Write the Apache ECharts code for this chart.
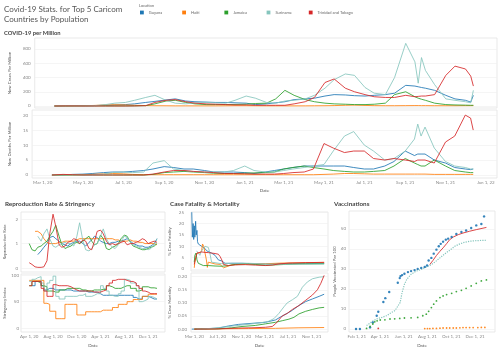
<!DOCTYPE html>
<html lang="en">
<head>
<meta charset="UTF-8">
<title>Covid-19 Stats</title>
<script src="https://cdn.jsdelivr.net/npm/echarts@6/dist/echarts.min.js"></script>
<style>
  html, body { margin: 0; padding: 0; background: #fff; }
  #main { width: 499px; height: 353px; }
</style>
</head>
<body>
<div id="main"></div>
<script>
const countries = ['Guyana', 'Haiti', 'Jamaica', 'Suriname', 'Trinidad and Tobago'];
const colors = ['#1f77b4', '#ff7f0e', '#2ca02c', '#86c5bd', '#d62728'];

// ---- COVID-19 per Million (top) ----
const casesDates = ['2020-03-15','2020-04-01','2020-04-15','2020-05-01','2020-05-15','2020-06-01','2020-06-15','2020-07-01','2020-07-15','2020-08-01','2020-08-15','2020-09-01','2020-09-15','2020-10-01','2020-10-15','2020-11-01','2020-11-15','2020-12-01','2020-12-15',
  '2021-01-01','2021-01-15','2021-02-01','2021-02-15','2021-03-01','2021-03-15','2021-04-01','2021-04-15','2021-05-01','2021-05-15','2021-06-01','2021-06-15','2021-07-01','2021-07-15','2021-08-01','2021-08-15','2021-09-01','2021-09-15','2021-09-20','2021-09-25','2021-10-01','2021-10-15','2021-11-01','2021-11-15','2021-12-01','2021-12-09','2021-12-13'];
const newCases = [
  [0,1,2,3,5,10,15,20,30,50,65,85,100,70,60,55,50,50,45, 40,20,30,45,60,90,100,110,140,160,155,145,140,150,160,180,290,280,270,260,250,220,150,100,80,55,150],
  [0,1,2,4,8,15,18,15,10,6,4,3,2,2,2,2,2,3,4, 4,3,2,2,2,2,2,3,4,6,10,12,8,5,4,4,5,6,6,5,5,4,4,4,5,5,6],
  [0,1,2,2,1,1,1,1,2,5,30,70,80,50,30,20,20,20,22, 25,35,40,100,220,150,90,60,40,30,25,20,20,25,40,160,200,130,110,95,80,40,20,15,12,10,10],
  [0,2,3,3,5,20,40,50,80,120,150,80,40,30,45,50,45,40,80, 140,110,50,40,70,80,100,150,250,370,450,430,260,180,160,400,880,620,320,680,500,300,100,80,60,45,220],
  [0,1,1,0,0,0,0,0,1,5,50,80,90,60,40,30,25,20,15, 15,10,10,10,10,30,60,120,330,380,250,200,160,130,120,120,150,130,135,140,140,160,430,560,520,420,280]
];
const newDeaths = [
  [0,0,0.2,0.3,0.5,0.8,1,1,1.2,1.5,2,2.8,2.5,2,2,1.5,1,1,1, 0.8,0.5,1,1.5,2,2.5,3,3,3,3,3,2.5,2,2,3,4.5,8,6.5,7,7,7,5,4,2.5,2,1.8,2],
  [0,0,0,0.1,0.2,0.4,0.5,0.4,0.2,0.1,0.1,0.1,0.1,0.1,0.1,0.1,0.1,0.1,0.1, 0.1,0.1,0.1,0.1,0.1,0.1,0.1,0.1,0.2,0.3,0.5,0.5,0.4,0.3,0.3,0.3,0.3,0.3,0.3,0.3,0.3,0.2,0.2,0.2,0.2,0.2,0.2],
  [0,0,0,0,0,0,0,0,0,0,0.2,0.8,1,1.2,1,0.8,0.6,0.5,0.5, 0.6,0.7,0.8,1,2,2.5,3,2.5,2,1.5,1.2,1,1,1.2,1.5,3,5.5,4,3.5,3,3,5,3,1.5,1,0.8,0.8],
  [0,0,0,0,0,0.3,0.8,1,0.8,1,4,4.8,2,1.5,1.2,1,1,1,1.5, 3,1.5,1,1,1.5,2,2.5,3,3.5,8,13,14.5,10,8,5,5.5,8,12,17,13,16,9,4.5,3,2.5,2,2],
  [0,0.2,0.1,0,0,0,0,0,0,0,0.3,1,1.5,1.5,1.2,1,0.8,0.5,0.5, 0.4,0.3,0.3,0.3,0.5,0.8,1,2,10.5,9,7.5,8,8,5.5,5,5.5,5,4.5,5,5,5,4,11,13,20,19,15]
];

// ---- Reproduction Rate & Stringency ----
const lowDates = ['2020-04-01','2020-04-15','2020-05-01','2020-05-15','2020-06-01','2020-06-15','2020-07-01','2020-07-15','2020-08-01','2020-08-15','2020-09-01','2020-09-15','2020-10-01','2020-10-15','2020-11-01','2020-11-15','2020-12-01','2020-12-15',
  '2021-01-01','2021-01-15','2021-02-01','2021-02-15','2021-03-01','2021-03-15','2021-04-01','2021-04-15','2021-05-01','2021-05-15','2021-06-01','2021-06-15','2021-07-01','2021-07-15','2021-08-01','2021-08-15','2021-09-01','2021-09-15','2021-10-01','2021-10-15','2021-11-01','2021-11-15','2021-12-01','2021-12-15','2022-01-01','2022-01-15'];
const reproRate = [
  [null,null,null,0.55,0.7,0.85,1.0,1.25,1.3,1.2,1.1,1.0,0.95,0.9,1.0,1.05,1.1,1.1,1.0,0.9,1.05,1.15,1.3,1.25,1.1,1.05,1.0,1.0,1.05,1.05,1.1,1.1,1.15,1.2,1.1,1.0,0.95,0.9,0.9,0.85,0.85,0.9,1.0,1.2],
  [null,null,1.5,1.5,1.4,1.2,1.05,1.0,1.0,1.0,1.05,1.05,1.1,1.1,1.1,1.1,1.15,1.2,1.2,1.2,1.2,1.2,1.2,1.2,1.2,1.2,1.2,1.2,1.2,1.15,1.15,1.1,1.1,1.1,1.15,1.1,1.1,1.05,1.05,1.0,1.0,1.0,1.0,0.95],
  [1.0,0.75,0.7,0.85,0.9,1.0,1.1,1.3,1.5,1.75,1.3,0.95,0.8,0.85,0.9,1.0,1.05,1.0,1.1,1.2,1.3,1.1,0.95,1.0,1.35,1.2,0.8,0.75,0.85,0.9,1.0,1.2,1.35,1.3,1.05,0.9,0.85,0.8,0.75,0.75,0.8,0.85,0.9,1.0],
  [null,null,null,1.3,1.1,1.4,1.6,1.2,0.9,0.85,0.95,1.0,1.05,1.0,1.0,0.9,1.3,1.85,1.1,0.75,0.7,0.8,0.95,1.0,1.3,1.6,1.2,1.0,0.85,0.8,0.95,1.1,1.3,1.25,1.05,0.95,0.9,0.85,0.8,0.8,0.75,0.8,0.95,1.2],
  [0.22,0.15,0.05,0.03,0.03,0.05,0.3,1.4,2.2,1.7,0.95,0.85,0.9,1.05,1.1,1.2,1.15,1.0,1.15,1.1,0.8,0.75,1.1,1.5,1.55,1.4,1.1,0.95,1.0,0.95,1.0,1.05,1.1,0.95,1.0,1.0,1.05,1.1,1.2,1.15,1.0,1.05,1.1,1.05]
];
const stringency = [
  [null,80,88,88,80,72,75,75,72,72,72,72,72,72,70,70,70,70,70,68,68,68,68,65,62,62,62,62,62,62,62,62,62,62,62,58,55,55,60,60,58,55,55,null],
  [90,90,90,90,90,47,45,32,32,18,18,18,45,45,45,45,25,25,25,31,31,31,31,31,34,34,34,34,39,39,45,45,45,50,50,54,54,54,60,60,64,64,64,64],
  [80,88,88,85,80,78,70,70,68,68,72,72,75,75,75,75,75,72,72,70,70,72,72,72,73,73,80,78,75,75,75,78,80,80,75,75,70,72,78,78,76,76,75,75],
  [88,92,95,97,85,70,85,90,98,60,55,55,60,60,60,60,62,62,65,60,60,62,65,65,80,75,70,62,60,60,65,70,92,90,85,85,80,50,52,55,60,58,55,null],
  [80,88,88,88,75,70,60,60,82,80,80,80,80,78,75,72,70,70,70,70,70,68,68,68,70,72,80,85,90,92,92,92,90,88,88,85,80,75,70,68,65,65,65,65]
];

// ---- Case Fatality & Mortality ----
const caseFatality = [
  [['2020-02-17',25],['2020-02-20',14],['2020-02-24',20],['2020-02-27',13],['2020-03-01',19],['2020-03-04',14],['2020-03-08',21],['2020-03-11',15],['2020-03-15',17],['2020-03-18',12],['2020-03-22',11],['2020-03-30',10.5],['2020-04-08',10],['2020-04-17',10.5],['2020-04-26',9],['2020-05-04',8],['2020-05-13',7.5],['2020-05-30',7],['2020-06-17',6],['2020-07-04',4],['2020-07-22',3.5],['2020-08-08',2.5],['2020-09-12',2.5],['2020-11-04',2.5],['2020-12-26',2.3],['2021-03-06',2.2],['2021-05-15',2.3],['2021-07-24',2.4],['2021-10-01',2.4],['2022-01-05',2.4]],
  [['2020-03-01',0.5],['2020-03-04',3],['2020-03-10',5],['2020-03-15',7],['2020-03-22',6.5],['2020-03-30',7],['2020-04-08',8],['2020-04-13',11],['2020-04-19',10],['2020-04-26',7],['2020-05-03',4],['2020-05-08',0.7],['2020-05-13',3],['2020-05-21',2.5],['2020-06-17',2.2],['2020-07-13',2],['2020-07-31',0.5],['2020-08-08',1.0],['2020-09-12',1.8],['2020-12-08',2.2],['2021-03-06',2.3],['2021-06-01',2.6],['2021-08-27',2.7],['2022-01-05',2.9]],
  [['2020-03-01',3],['2020-03-04',6],['2020-03-10',7],['2020-03-15',4],['2020-03-22',2.5],['2020-03-30',1.8],['2020-04-17',1.5],['2020-05-13',1.5],['2020-06-17',1.3],['2020-07-22',1.2],['2020-08-26',1.5],['2020-09-30',2.0],['2020-11-21',2.3],['2021-01-12',2.0],['2021-03-06',1.6],['2021-04-27',1.8],['2021-06-19',2.0],['2021-08-27',2.2],['2022-01-05',2.3]],
  [['2020-03-13',8],['2020-03-22',7.5],['2020-03-30',6],['2020-04-08',8],['2020-04-17',9],['2020-04-26',10],['2020-05-04',10],['2020-05-13',9.5],['2020-05-21',7],['2020-05-30',3],['2020-06-08',2.5],['2020-07-22',2.3],['2020-09-12',2.5],['2020-12-08',2.5],['2021-03-06',2.2],['2021-06-01',2.0],['2021-08-27',2.1],['2022-01-05',2.2]],
  [['2020-03-01',2],['2020-03-08',5],['2020-03-15',7],['2020-03-22',7.2],['2020-04-08',7.5],['2020-04-26',7.3],['2020-05-13',7.2],['2020-05-30',7],['2020-06-17',6.8],['2020-07-04',6.5],['2020-07-13',5.5],['2020-07-22',4],['2020-07-31',2],['2020-08-08',1.2],['2020-08-26',1.5],['2020-09-30',1.8],['2020-11-21',1.9],['2021-01-12',1.7],['2021-03-06',1.5],['2021-04-10',1.7],['2021-05-15',2.2],['2021-07-06',2.6],['2021-10-01',2.8],['2022-01-05',2.9]]
];
const caseMortality = [
  [['2020-02-17',0],['2020-04-26',0.001],['2020-07-04',0.004],['2020-08-26',0.012],['2020-10-17',0.018],['2020-12-26',0.022],['2021-03-06',0.026],['2021-04-27',0.035],['2021-06-01',0.05],['2021-06-27',0.06],['2021-07-24',0.072],['2021-08-27',0.09],['2021-10-01',0.105],['2021-11-05',0.115],['2021-12-10',0.125],['2022-01-05',0.133]],
  [['2020-03-01',0],['2020-06-17',0.001],['2020-12-08',0.002],['2021-04-27',0.003],['2021-08-27',0.005],['2022-01-05',0.006]],
  [['2020-03-01',0],['2020-07-04',0.001],['2020-09-12',0.005],['2020-11-04',0.01],['2021-01-12',0.014],['2021-03-06',0.02],['2021-04-27',0.026],['2021-06-01',0.032],['2021-07-06',0.038],['2021-08-01',0.045],['2021-08-27',0.058],['2021-10-01',0.068],['2021-11-05',0.075],['2021-12-10',0.081],['2022-01-05',0.083]],
  [['2020-03-13',0],['2020-04-08',0.0003],['2020-06-17',0.004],['2020-08-26',0.01],['2020-10-26',0.015],['2020-12-26',0.02],['2021-02-16',0.025],['2021-03-23',0.03],['2021-04-19',0.04],['2021-05-15',0.06],['2021-06-10',0.085],['2021-06-27',0.10],['2021-07-24',0.112],['2021-08-19',0.125],['2021-09-14',0.16],['2021-10-10',0.18],['2021-11-05',0.192],['2021-12-10',0.198],['2022-01-05',0.2]],
  [['2020-03-01',0],['2020-06-17',0.0005],['2020-08-08',0.002],['2020-10-17',0.004],['2020-12-26',0.005],['2021-03-06',0.007],['2021-04-10',0.01],['2021-04-27',0.02],['2021-05-15',0.035],['2021-06-01',0.05],['2021-06-27',0.06],['2021-07-24',0.075],['2021-08-27',0.09],['2021-10-01',0.11],['2021-11-05',0.13],['2021-12-01',0.15],['2021-12-19',0.175],['2022-01-05',0.205]]
];

// ---- Vaccinations ----
const vaccinated = [
  [['2021-01-30',0],['2021-02-09',0],['2021-03-07',0.8],['2021-03-14',3.3],['2021-03-24',6.6],['2021-03-28',8.6],['2021-04-10',13.5],['2021-04-15',15.4],['2021-04-25',18.5],['2021-05-17',23.1],['2021-05-22',25.4],['2021-05-24',26.4],['2021-05-28',26.9],['2021-06-03',27.6],['2021-06-12',28.4],['2021-06-20',28.9],['2021-06-29',29.4],['2021-07-07',30],['2021-07-16',30.5],['2021-07-25',31],['2021-07-31',31.7],['2021-08-04',34.2],['2021-08-11',35.5],['2021-08-17',37.6],['2021-08-24',39.6],['2021-08-30',41.3],['2021-09-04',42.5],['2021-09-10',43.6],['2021-09-17',44.6],['2021-09-23',45.1],['2021-10-02',45.9],['2021-10-14',47.4],['2021-10-27',48.4],['2021-11-08',49.2],['2021-11-21',50.4],['2021-12-04',51.7],['2021-12-17',52.4],['2021-12-24',56.2]],
  [['2021-07-25',0.2],['2021-08-01',0.2],['2021-08-07',0.2],['2021-08-15',0.3],['2021-08-24',0.3],['2021-09-02',0.4],['2021-09-10',0.5],['2021-09-19',0.5],['2021-09-27',0.5],['2021-10-06',0.5],['2021-10-14',0.5],['2021-10-23',0.6],['2021-10-31',0.7],['2021-11-08',0.7],['2021-11-17',0.7],['2021-11-26',0.7],['2021-12-08',0.7],['2021-12-17',0.8],['2021-12-26',0.8]],
  [['2021-02-26',0.3],['2021-03-07',1.3],['2021-03-14',2.5],['2021-03-19',3.6],['2021-03-25',4.1],['2021-04-02',4.5],['2021-04-14',4.6],['2021-04-27',5],['2021-05-09',5.1],['2021-05-22',5.3],['2021-06-03',5.5],['2021-06-20',5.6],['2021-07-07',5.8],['2021-07-20',6.6],['2021-07-29',7.4],['2021-08-04',8.8],['2021-08-11',10.7],['2021-08-17',12.4],['2021-08-24',14],['2021-09-02',15.7],['2021-09-10',16.5],['2021-09-19',17.2],['2021-10-02',17.8],['2021-10-14',18.7],['2021-10-27',19.3],['2021-11-08',20.3],['2021-11-21',21.5],['2021-12-04',22.8],['2021-12-17',24],['2021-12-30',24.5]],
  [['2021-02-26',1.7],['2021-03-11',3.6],['2021-03-24',5],['2021-04-06',5.8],['2021-04-18',6.6],['2021-05-01',8.3],['2021-05-09',9.1],['2021-05-13',10.2],['2021-05-17',10.7],['2021-05-23',13.2],['2021-05-28',18.2],['2021-06-03',22.3],['2021-06-09',24.8],['2021-06-20',27.3],['2021-07-03',28.9],['2021-07-16',29.7],['2021-07-29',31],['2021-08-07',31.7],['2021-08-20',33.4],['2021-09-02',35.5],['2021-09-15',37.6],['2021-09-27',39.3],['2021-10-10',41.3],['2021-10-23',42.5],['2021-11-04',43.3],['2021-11-17',43.8],['2021-12-04',44.1],['2021-12-30',44.3]],
  [['2021-08-07',32.2],['2021-08-15',34.2],['2021-08-24',36.7],['2021-09-02',38.8],['2021-09-10',40.5],['2021-09-19',42.6],['2021-09-27',44.6],['2021-10-06',45.9],['2021-10-19',47.1],['2021-10-31',47.9],['2021-11-17',48.8],['2021-12-04',49.6],['2021-12-30',50.7]]
];
const ttEarlyVax = [['2021-03-28', 0.3]];

// tick labels
const topTicks = ['2020-03-01','2020-05-01','2020-07-01','2020-09-01','2020-11-01','2021-01-01','2021-03-01','2021-05-01','2021-07-01','2021-09-01','2021-11-01','2022-01-01'];
const reproTicks = ['2020-04-01','2020-08-01','2020-12-01','2021-04-01','2021-08-01','2021-12-01'];
const cfrTicks = ['2020-03-01','2020-07-01','2020-11-01','2021-03-01','2021-07-01','2021-11-01'];
const vaxTicks = ['2021-02-01','2021-04-01','2021-06-01','2021-08-01','2021-10-01','2021-12-01'];
const casesYTicks = [0, 200, 400, 600, 800];
const deathsYTicks = [0, 5, 10, 15, 20];
const reproYTicks = [0, 1, 2];
const stringencyYTicks = [0, 50, 100];
const cfrYTicks = [0, 5, 10, 15, 20, 25];
const mortYTicks = [0, 0.05, 0.1, 0.15, 0.2];
const vaxYTicks = [0, 10, 20, 30, 40, 50];

const MONTHS = ['Jan','Feb','Mar','Apr','May','Jun','Jul','Aug','Sep','Oct','Nov','Dec'];
function ts(s) {
  const p = s.split('-').map(Number);
  return new Date(p[0], p[1] - 1, p[2]).getTime();
}
function fmtDate(v) {
  const d = new Date(v);
  return MONTHS[d.getMonth()] + ' ' + d.getDate() + ', ' + String(d.getFullYear()).slice(2);
}
// pairs of [date string, value] -> [timestamp, value]
const toPts = pairs => pairs.map(p => [ts(p[0]), p[1]]);
const zipPts = (dates, vals) => dates.map((d, i) => [ts(d), vals[i]]);

const labelColor = '#8a8a8a';
const nameColor = '#555';

// dates run on a plain value axis (timestamps) so the tick positions can be set exactly
function xAxis(gi, min, max, ticks, showLabels, nameGap) {
  return {
    type: 'value', gridIndex: gi, min: ts(min), max: ts(max),
    axisLine: { show: false },
    axisTick: { show: false, customValues: ticks.map(ts) },
    splitLine: { show: false },
    axisLabel: showLabels ? {
      customValues: ticks.map(ts), formatter: fmtDate,
      fontSize: 4.5, color: labelColor, margin: 2, hideOverlap: false
    } : { show: false },
    name: showLabels ? 'Date' : '', nameLocation: 'middle', nameGap: nameGap || 10,
    nameTextStyle: { fontSize: 4.5, color: nameColor }
  };
}
function yAxis(gi, min, max, ticks, name, nameGap, margin, fmt) {
  return {
    type: 'value', gridIndex: gi, min: min, max: max,
    axisLine: { show: false },
    axisTick: { show: false, customValues: ticks },
    axisLabel: { customValues: ticks, fontSize: 4.5, color: labelColor, margin: margin, formatter: fmt || (v => String(v)) },
    splitLine: { lineStyle: { color: '#eeeeee', width: 0.6 } },
    name: name, nameLocation: 'middle', nameGap: nameGap,
    nameTextStyle: { fontSize: 4.3, color: nameColor }
  };
}

const gridStyle = { show: true, borderColor: '#e3e3e3', borderWidth: 0.8, containLabel: false };
const grids = [
  Object.assign({ left: 24, width: 473, top: 38, height: 70 }, gridStyle),
  Object.assign({ left: 24, width: 473, top: 110, height: 68 }, gridStyle),
  Object.assign({ left: 21, width: 144, top: 212, height: 60 }, gridStyle),
  Object.assign({ left: 21, width: 144, top: 274, height: 58 }, gridStyle),
  Object.assign({ left: 191, width: 137, top: 212, height: 59 }, gridStyle),
  Object.assign({ left: 191, width: 137, top: 273, height: 59 }, gridStyle),
  Object.assign({ left: 349, width: 146, top: 211, height: 121 }, gridStyle)
];

const xAxes = [
  xAxis(0, '2020-02-14', '2022-01-18', topTicks, false),
  xAxis(1, '2020-02-14', '2022-01-18', topTicks, true, 10),
  xAxis(2, '2020-02-19', '2022-02-25', reproTicks, false),
  xAxis(3, '2020-02-19', '2022-02-25', reproTicks, true, 11),
  xAxis(4, '2020-02-13', '2022-01-25', cfrTicks, false),
  xAxis(5, '2020-02-13', '2022-01-25', cfrTicks, true, 11),
  xAxis(6, '2021-01-12', '2022-01-21', vaxTicks, true, 11)
];
const yAxes = [
  yAxis(0, -28, 955, casesYTicks, 'New Cases Per Million', 16, 4),
  yAxis(1, -1, 21.7, deathsYTicks, 'New Deaths Per Million', 16, 4),
  yAxis(2, -0.16, 2.29, reproYTicks, 'Reproduction Rate', 14, 3),
  yAxis(3, -7, 102, stringencyYTicks, 'Stringency Index', 14, 2),
  yAxis(4, -0.9, 25.1, cfrYTicks, '% Case Fatality', 19, 7),
  yAxis(5, -0.011, 0.214, mortYTicks, '% Case Mortality', 19, 4, v => v.toFixed(2)),
  yAxis(6, -1.5, 58.9, vaxYTicks, 'People Vaccinated Per 100', 12, 3)
];

function line(gi, ci, data, extra) {
  return Object.assign({
    type: 'line', name: countries[ci], xAxisIndex: gi, yAxisIndex: gi,
    data: data, showSymbol: false, symbol: 'none', connectNulls: false,
    lineStyle: { width: 1, color: colors[ci], opacity: 0.85 },
    itemStyle: { color: colors[ci] }, silent: true, z: 2
  }, extra || {});
}
function dots(gi, ci, data, size) {
  return {
    type: 'scatter', name: countries[ci], xAxisIndex: gi, yAxisIndex: gi,
    data: data, symbolSize: size, itemStyle: { color: colors[ci], opacity: 0.9 }, silent: true
  };
}

const series = [];
countries.forEach((c, ci) => {
  series.push(line(0, ci, zipPts(casesDates, newCases[ci])));
  series.push(line(1, ci, zipPts(casesDates, newDeaths[ci])));
  series.push(line(2, ci, zipPts(lowDates, reproRate[ci])));
  series.push(line(3, ci, zipPts(lowDates, stringency[ci]), { step: 'end' }));
  series.push(line(4, ci, toPts(caseFatality[ci])));
  series.push(line(5, ci, toPts(caseMortality[ci])));
});
series.push(dots(6, 0, toPts(vaccinated[0]), 2.4));
series.push(dots(6, 1, toPts(vaccinated[1]), 1.8));
series.push(dots(6, 2, toPts(vaccinated[2]), 1.8));
series.push(line(6, 3, toPts(vaccinated[3]), { lineStyle: { width: 1.2, color: colors[3], type: 'dotted' } }));
series.push(line(6, 4, toPts(vaccinated[4])));
series.push(dots(6, 4, toPts(ttEarlyVax), 1.8));

const legends = countries.map((c, i) => ({
  data: [c], left: 140 + i * 42.2, top: 10.5, orient: 'horizontal',
  icon: 'rect', itemWidth: 3.8, itemHeight: 3.8, padding: 0, selectedMode: false,
  textStyle: { fontSize: 4, color: '#666' }
}));

const titleStyle = { fontSize: 6.3, fontWeight: 'bold', color: '#444' };
const option = {
  animation: false,
  backgroundColor: '#fff',
  textStyle: { fontFamily: 'Lato, "Open Sans", sans-serif' },
  title: [
    { text: 'Covid-19 Stats. for Top 5 Caricom\nCountries by Population', left: 4, top: 5, padding: 0,
      textStyle: { fontSize: 8, fontWeight: 'normal', color: '#555', lineHeight: 9.5 } },
    { text: 'Location', left: 139, top: 4, padding: 0, textStyle: { fontSize: 4, fontWeight: 'normal', color: '#666' } },
    { text: 'COVID-19 per Million', left: 4, top: 30, padding: 0, textStyle: { fontSize: 5.8, fontWeight: 'bold', color: '#444' } },
    { text: 'Reproduction Rate & Stringency', left: 5, top: 201, padding: 0, textStyle: titleStyle },
    { text: 'Case Fatality & Mortality', left: 170, top: 201, padding: 0, textStyle: titleStyle },
    { text: 'Vaccinations', left: 334, top: 201, padding: 0, textStyle: titleStyle }
  ],
  legend: legends,
  grid: grids,
  xAxis: xAxes,
  yAxis: yAxes,
  series: series
};

const chart = echarts.init(document.getElementById('main'));
chart.setOption(option);
window.addEventListener('resize', () => chart.resize());
</script>
</body>
</html>
